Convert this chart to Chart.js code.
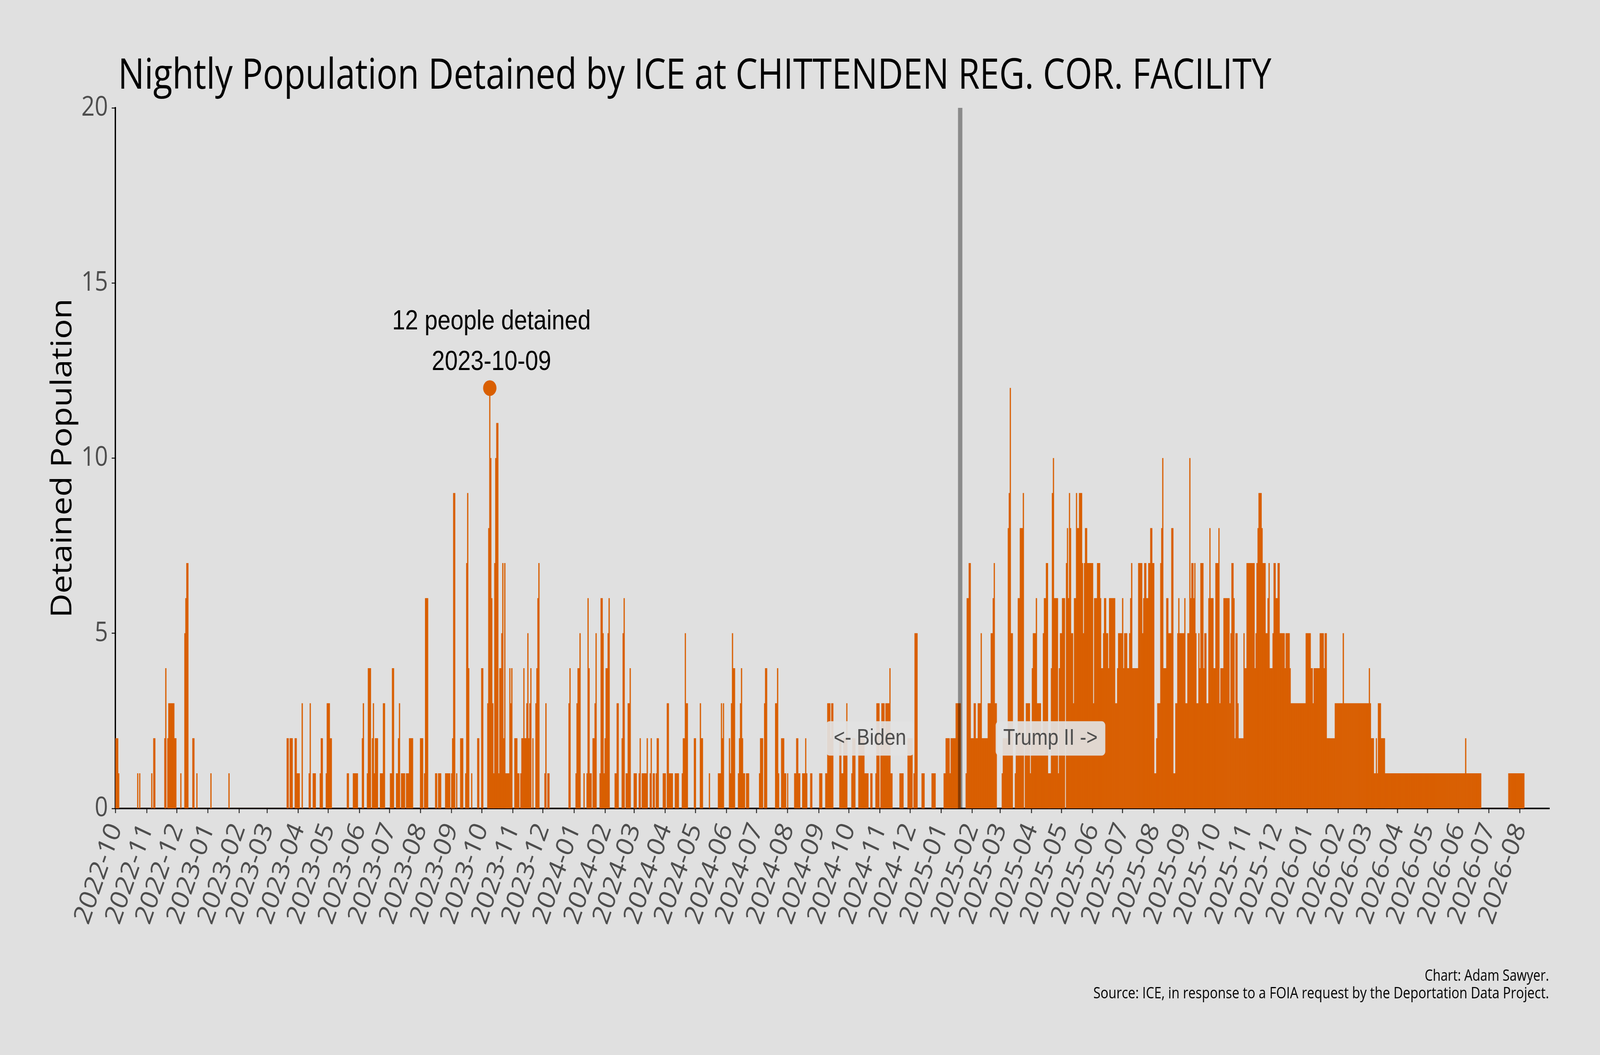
<!DOCTYPE html>
<html>
<head>
<meta charset="utf-8">
<script src="https://cdn.jsdelivr.net/npm/chart.js@4.4.1/dist/chart.umd.min.js"></script>
<style>
html,body{margin:0;padding:0;background:#e0e0e0;overflow:hidden;width:100%;height:100%;}
#outer{position:fixed;left:0;top:0;width:100vw;height:100vh;overflow:hidden;background:#e0e0e0;}
#wrap{position:absolute;left:0;top:0;width:4800px;height:2700px;transform-origin:0 0;}
</style>
</head>
<body>
<div id="outer"><div id="wrap"><canvas id="c" width="4800" height="2700"></canvas></div></div>
<script>
// ---------------- DATA ----------------
const seriesStartDate = '2022-10-01';   // first night of the series
const chartTitle = 'Nightly Population Detained by ICE at CHITTENDEN REG. COR. FACILITY';
const yAxisTitle = 'Detained Population';
const footerLines = ['Chart: Adam Sawyer.', 'Source: ICE, in response to a FOIA request by the Deportation Data Project.'];
const inaugurationDate = '2025-01-20';
const eraLabels = ['<- Biden', 'Trump II ->'];
const eraLabelDayOffsets = [-90, 90];
const eraLabelValue = 2;

const monthLabels = [
  '2022-10','2022-11','2022-12',
  '2023-01','2023-02','2023-03','2023-04','2023-05','2023-06','2023-07','2023-08','2023-09','2023-10','2023-11','2023-12',
  '2024-01','2024-02','2024-03','2024-04','2024-05','2024-06','2024-07','2024-08','2024-09','2024-10','2024-11','2024-12',
  '2025-01','2025-02','2025-03','2025-04','2025-05','2025-06','2025-07','2025-08','2025-09','2025-10','2025-11','2025-12',
  '2026-01','2026-02','2026-03','2026-04','2026-05','2026-06','2026-07','2026-08'
];
const yTickValues = [0, 5, 10, 15, 20];

// nightly detained population, one value per night, consecutive blocks from 2022-10-01
const nightlyBlock1 = [ // 2022-10-01 .. 2023-04-18
 2,2,2,1,0,0,0,0,0,0, 0,0,0,0,0,0,0,0,0,0, 0,0,1,0,1,0,0,0,0,0, 0,0,0,0,0,0,1,0,2,2,
 0,0,0,0,0,0,0,0,0,2, 4,0,2,3,3,3,3,3,3,2, 2,0,0,0,0,1,0,0,0,5, 6,7,7,0,0,0,0,2,2,0,
 0,1,0,0,0,0,0,0,0,0, 0,0,0,0,0,1,0,0,0,0, 0,0,0,0,0,0,0,0,0,0, 0,0,0,1,0,0,0,0,0,0,
 0,0,0,0,0,0,0,0,0,0, 0,0,0,0,0,0,0,0,0,0, 0,0,0,0,0,0,0,0,0,0, 0,0,0,0,0,0,0,0,0,0,
 0,0,0,0,0,0,0,0,0,0, 0,2,2,0,2,2,2,0,0,2, 2,1,1,1,0,0,3,0,0,0, 0,0,0,1,3,0,0,1,1,1
];
const nightlyBlock2 = [ // 2023-04-19 .. 2023-11-04
 0,0,0,0,1,2,2,0,0,0, 1,3,3,3,2,2,0,0,0,0, 0,0,0,0,0,0,0,0,0,0, 0,1,1,0,0,0,0,1,1,1,
 1,1,0,0,0,0,2,3,0,0, 0,1,4,4,4,0,2,3,1,2, 2,2,0,0,1,1,1,3,3,0, 0,0,0,0,1,1,4,4,0,0,
 1,1,2,3,0,1,1,1,1,0, 1,1,1,2,2,2,2,0,0,0, 0,0,0,0,2,2,2,0,1,6, 6,6,0,0,0,0,0,0,0,1,
 1,0,1,1,1,0,0,0,0,1, 1,1,1,1,0,1,2,9,9,0, 1,0,0,0,2,2,2,0,0,1, 7,9,4,0,0,1,0,0,0,0,
 0,2,2,0,0,4,4,0,0,0, 0,3,8,12,10,6,3,1,7,10, 11,11,1,4,4,5,7,2,7,1, 1,1,1,4,3,4,0,0,2,2
];
const nightlyBlock3 = [ // 2023-11-05 .. 2024-05-22
 2,1,1,0,1,2,2,4,2,2, 3,5,2,3,4,0,2,0,0,3, 4,6,7,0,0,0,0,0,1,3, 0,1,1,0,0,0,0,0,0,0,
 0,0,0,0,0,0,0,0,0,0, 0,0,3,4,0,0,0,0,0,1, 3,4,4,5,0,0,0,1,0,0, 1,6,4,1,1,0,2,2,3,5,
 0,0,0,1,6,6,5,1,2,4, 4,5,6,0,0,0,0,0,1,1, 3,3,0,0,0,2,5,6,0,1, 1,3,3,4,0,0,0,1,1,1,
 0,0,1,2,0,1,1,1,1,1, 2,0,0,1,2,0,1,1,0,1, 2,2,0,0,0,0,1,1,1,0, 3,3,1,1,1,1,0,0,1,1,
 1,1,0,0,0,1,2,2,5,3, 3,0,0,0,0,0,0,2,2,0, 0,0,0,3,2,2,0,0,0,0, 0,0,1,0,0,0,0,0,0,0
];
const nightlyBlock4 = [ // 2024-05-23 .. 2024-12-08
 0,1,1,1,3,2,3,0,0,0, 0,0,2,1,3,5,4,4,0,0, 0,1,2,3,4,2,1,1,0,1, 1,1,0,0,0,0,0,0,0,0,
 0,0,1,2,2,2,0,3,4,4, 0,0,0,0,0,0,0,0,3,3, 4,1,0,0,2,2,2,1,1,0, 1,0,0,0,0,0,0,1,1,2,
 2,1,1,0,0,1,1,1,2,1, 0,0,0,1,1,0,0,0,0,0, 0,0,1,1,1,0,0,0,1,1, 3,3,3,2,3,3,0,0,0,0,
 0,0,2,2,1,1,2,2,2,3, 0,0,0,0,1,2,2,2,0,0, 0,2,2,2,2,2,2,1,1,1, 1,0,0,1,1,0,0,0,1,3,
 3,3,0,2,3,3,3,2,3,3, 3,3,4,1,1,0,0,0,0,0, 0,0,1,1,1,1,0,0,0,0, 2,2,2,2,2,0,1,5,5,5
];
const nightlyBlock5 = [ // 2024-12-09 .. 2025-06-26
 0,0,0,0,1,1,1,0,0,0, 0,0,0,0,1,1,1,1,0,0, 0,0,0,0,0,0,1,1,2,2, 2,2,1,2,2,2,2,2,3,3,
 3,3,3,0,0,0,0,0,1,6, 6,7,7,2,2,2,3,3,2,2, 3,3,3,5,2,2,2,2,2,2, 3,3,3,5,5,6,7,3,3,0,
 0,0,0,0,1,2,2,2,2,2, 8,9,12,5,5,0,0,1,2,2, 6,6,8,8,8,9,0,2,3,3, 3,3,1,2,4,5,5,5,6,3,
 3,3,3,2,2,5,6,6,7,7, 1,1,1,4,9,10,6,6,6,6, 1,4,5,5,6,6,6,0,7,8, 6,9,8,5,5,3,6,6,9,8,
 8,9,9,9,7,5,7,8,8,7, 7,7,7,7,7,3,6,6,6,7, 7,7,6,4,4,5,6,6,5,5, 4,6,6,6,6,6,6,3,3,4
];
const nightlyBlock6 = [ // 2025-06-27 .. 2026-01-12
 5,5,5,5,6,4,5,5,5,4, 4,5,6,7,4,4,4,4,4,4, 7,7,7,7,5,6,7,7,6,6, 7,7,8,8,7,7,1,1,2,3,
 3,3,7,8,10,4,4,4,6,6, 5,5,5,8,8,1,1,3,3,5, 6,5,5,5,5,5,6,3,3,5, 5,10,6,7,7,6,7,5,3,3,
 5,4,7,7,7,4,5,5,3,3, 6,8,6,6,6,4,4,7,7,7, 8,3,4,4,4,6,6,6,6,6, 6,3,5,7,7,6,2,5,5,3,
 2,2,2,2,2,5,4,4,7,7, 7,7,7,7,7,7,4,5,7,8, 9,9,9,8,7,7,7,5,5,6, 7,4,4,4,5,7,7,6,6,7,
 7,5,5,5,5,5,4,5,5,5, 5,4,3,3,3,3,3,3,3,3, 3,3,3,3,3,3,3,5,5,5, 5,5,4,4,3,4,4,4,4,4
];
const nightlyBlock7 = [ // 2026-01-13 .. 2026-08-05
 4,5,5,5,5,4,5,5,2,2, 2,2,2,2,2,2,3,3,3,3, 3,3,3,3,5,3,3,3,3,3, 3,3,3,3,3,3,3,3,3,3,
 3,3,3,3,3,3,3,3,3,3, 4,3,2,2,2,1,1,2,1,3, 3,3,2,2,2,2,1,1,1,1, 1,1,1,1,1,1,1,1,1,1,
 1,1,1,1,1,1,1,1,1,1, 1,1,1,1,1,1,1,1,1,1, 1,1,1,1,1,1,1,1,1,1, 1,1,1,1,1,1,1,1,1,1,
 1,1,1,1,1,1,1,1,1,1, 1,1,1,1,1,1,1,1,1,1, 1,1,1,1,1,1,2,1,1,1, 1,1,1,1,1,1,1,1,1,1,
 1,1,0,0,0,0,0,0,0,0, 0,0,0,0,0,0,0,0,0,0, 0,0,0,0,0,0,0,0,0,1, 1,1,1,1,1,1,1,1,1,1,
 1,1,1,1,1
];

// ---------------- STYLE ----------------
const BG = '#e0e0e0';
const ORANGE = '#d95f02';
const SANS = "'Open Sans', 'Noto Sans', sans-serif";
const ARIAL = "'Liberation Sans', Arial, sans-serif";

// stretch the 4800x2700 drawing so that it fills the whole viewport
(function fitPage() {
  const sx = window.innerWidth / 4800;
  const sy = window.innerHeight / 2700;
  document.getElementById('wrap').style.transform = 'scale(' + sx + ',' + sy + ')';
})();

// ---------------- HELPERS ----------------
const START_MS = (() => { const p = seriesStartDate.split('-').map(Number); return Date.UTC(p[0], p[1]-1, p[2]); })();
function dayOf(iso) {
  const p = iso.split('-').map(Number);
  return Math.round((Date.UTC(p[0], p[1]-1, p[2] || 1) - START_MS) / 86400000);
}
function isoOfDay(d) { return new Date(START_MS + d * 86400000).toISOString().slice(0, 10); }

const nightly = [].concat(nightlyBlock1, nightlyBlock2, nightlyBlock3, nightlyBlock4, nightlyBlock5, nightlyBlock6, nightlyBlock7);
const barPoints = nightly.map((v, i) => ({ x: i, y: v }));
const monthTickDays = monthLabels.map(dayOf);
const peakValue = Math.max(...nightly);
const peakDay = nightly.indexOf(peakValue);
const annotationLines = [peakValue + ' people detained', isoOfDay(peakDay)];
const inaugurationDay = dayOf(inaugurationDate);

function fittedText(ctx, txt, x, y, font, color, align, targetW) {
  ctx.save();
  ctx.font = font;
  ctx.fillStyle = color;
  ctx.textBaseline = 'alphabetic';
  const w = ctx.measureText(txt).width;
  const s = targetW ? targetW / w : 1;
  ctx.translate(x, y);
  ctx.scale(s, 1);
  ctx.textAlign = align;
  ctx.fillText(txt, 0, 0);
  ctx.restore();
}

const decor = {
  id: 'decor',
  beforeDraw(chart) {
    const c = chart.ctx;
    c.save(); c.fillStyle = BG; c.fillRect(0, 0, chart.width, chart.height); c.restore();
  },
  afterDatasetsDraw(chart) {
    const { ctx, chartArea: a, scales: { x, y } } = chart;
    // inauguration line
    ctx.save();
    const lx = x.getPixelForValue(inaugurationDay);
    ctx.strokeStyle = 'rgba(0,0,0,0.38)';
    ctx.lineWidth = 13;
    ctx.beginPath(); ctx.moveTo(lx, a.top); ctx.lineTo(lx, a.bottom); ctx.stroke();
    ctx.restore();
    // era labels
    eraLabels.forEach((txt, k) => {
      const cx = x.getPixelForValue(inaugurationDay + eraLabelDayOffsets[k]);
      const cy = y.getPixelForValue(eraLabelValue);
      ctx.save();
      ctx.font = '58px ' + ARIAL;
      const w = ctx.measureText(txt).width + 46, h = 88;
      ctx.fillStyle = 'rgba(226,226,226,0.92)';
      ctx.beginPath();
      ctx.roundRect(cx - w / 2, cy - h / 2, w, h, 11);
      ctx.fill();
      ctx.fillStyle = '#4d4d4d';
      ctx.textAlign = 'center';
      ctx.textBaseline = 'alphabetic';
      ctx.fillText(txt, cx, cy + 16);
      ctx.restore();
    });
    // peak annotation
    const px = x.getPixelForValue(peakDay), py = y.getPixelForValue(peakValue);
    ctx.save();
    ctx.font = '70px ' + ARIAL;
    ctx.fillStyle = '#000';
    ctx.textAlign = 'center';
    ctx.textBaseline = 'alphabetic';
    ctx.fillText(annotationLines[0], px + 5, py - 150);
    ctx.fillText(annotationLines[1], px + 5, py - 46);
    ctx.restore();
  },
  afterDraw(chart) {
    const { ctx, chartArea: a } = chart;
    // title
    fittedText(ctx, chartTitle, a.left + 8, a.top - 49, '108px ' + SANS, '#000', 'left', 3460);
    // y axis title
    ctx.save();
    ctx.translate(214, (a.top + a.bottom) / 2);
    ctx.rotate(-Math.PI / 2);
    fittedText(ctx, yAxisTitle, 0, 0, '86px ' + SANS, '#000', 'center', 817);
    ctx.restore();
    // footer
    fittedText(ctx, footerLines[0], a.right - 1, 2510, '41px ' + SANS, '#000', 'right', 373);
    fittedText(ctx, footerLines[1], a.right - 1, 2555, '41px ' + SANS, '#000', 'right', 1367);
  }
};

new Chart(document.getElementById('c').getContext('2d'), {
  type: 'bar',
  data: {
    datasets: [
      { type: 'scatter', data: [{ x: peakDay, y: peakValue }], pointRadius: 20, pointHoverRadius: 20,
        pointBackgroundColor: ORANGE, pointBorderWidth: 0, borderWidth: 0, order: 0 },
      { type: 'bar', data: barPoints, backgroundColor: ORANGE, barPercentage: 1, categoryPercentage: 1,
        borderWidth: 0, order: 1 }
    ]
  },
  options: {
    responsive: false,
    animation: false,
    devicePixelRatio: 1,
    layout: { padding: { left: 0, right: 152, top: 276, bottom: 0 } },
    plugins: { legend: { display: false }, tooltip: { enabled: false }, title: { display: false } },
    scales: {
      x: {
        type: 'linear', min: -0.33, max: 1429.4, offset: false,
        afterBuildTicks: s => { s.ticks = monthTickDays.map(v => ({ value: v })); },
        afterFit: s => { s.height = 631; },
        ticks: { autoSkip: false, minRotation: 68, maxRotation: 68, color: '#4d4d4d',
                 font: { family: SANS, size: 72 }, padding: 14,
                 callback: (v, i) => monthLabels[i] },
        grid: { offset: false, drawOnChartArea: false, drawTicks: true, tickLength: 12, tickColor: '#333333', tickWidth: 3 },
        border: { display: true, color: '#000', width: 4 }
      },
      y: {
        min: 0, max: 20,
        afterFit: s => { s.width = 346; },
        afterBuildTicks: s => { s.ticks = yTickValues.map(v => ({ value: v })); },
        ticks: { color: '#4d4d4d', font: { family: SANS, size: 70 }, padding: 11 },
        grid: { drawOnChartArea: false, drawTicks: true, tickLength: 11, tickColor: '#333333', tickWidth: 3 },
        border: { display: true, color: '#000', width: 4 }
      }
    }
  },
  plugins: [decor]
});
</script>
</body>
</html>
